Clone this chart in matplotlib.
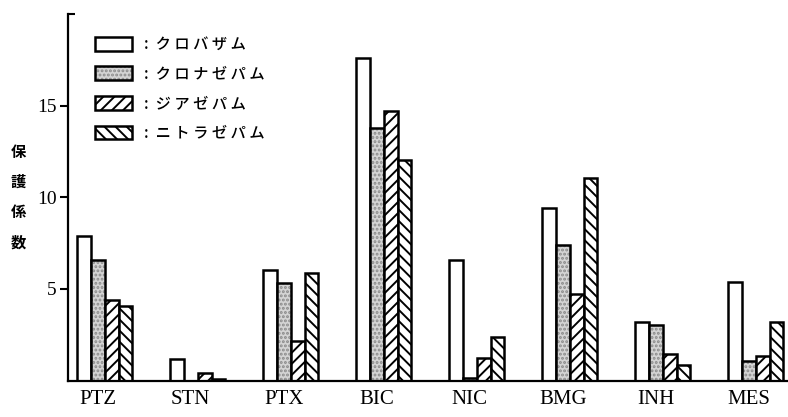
"""
Protective index of four benzodiazepines against eight convulsant models,
drawn as grouped bars with monochrome fill patterns.
"""

import matplotlib

matplotlib.use("Agg")
import matplotlib.pyplot as plt
import numpy as np
from matplotlib.patches import Patch

plt.rcParams["hatch.linewidth"] = 1.4

models = ["PTZ", "STN", "PTX", "BIC", "NIC", "BMG", "INH", "MES"]
drug_names = ["クロバザム", "クロナゼパム", "ジアゼパム", "ニトラゼパム"]

clobazam = [7.9, 1.15, 6.05, 17.6, 6.6, 9.4, 3.2, 5.4]
clonazepam = [6.6, 0.0, 5.3, 13.8, 0.15, 7.4, 3.05, 1.05]
diazepam = [4.4, 0.4, 2.15, 14.7, 1.25, 4.7, 1.45, 1.35]
nitrazepam = [4.05, 0.1, 5.85, 12.05, 2.35, 11.05, 0.85, 3.2]

series = [clobazam, clonazepam, diazepam, nitrazepam]
y_ticks = [5, 10, 15]

SERIF = ["Liberation Serif", "DejaVu Serif"]
CJK = ["Noto Sans CJK JP", "DejaVu Sans"]

# fill style per drug: (facecolor, hatch, hatch colour)
styles = [
    ("white", None, None),
    ("#d4d4d4", "....", "#8a8a8a"),
    ("white", "///", "black"),
    ("white", "\\\\\\", "black"),
]

fig = plt.figure(figsize=(7.88, 4.17), dpi=100)
ax = fig.add_axes([68 / 788, 36.5 / 417, 1 - 68 / 788, (380.5 - 14) / 417])

x = np.arange(len(models))
width = 0.148
shift = 0.075

handles = []
for k, (vals, (fc, hatch, hc)) in enumerate(zip(series, styles)):
    pos = x + shift + (k - 1.5) * width
    if hatch:
        # pattern layer first, black outline drawn on top
        ax.bar(pos, vals, width, color=fc, edgecolor=hc, hatch=hatch, linewidth=0)
        ax.bar(pos, vals, width, fill=False, edgecolor="black", linewidth=1.8)
        handles.append((Patch(facecolor=fc, edgecolor=hc, hatch=hatch, linewidth=0),
                        Patch(fill=False, edgecolor="black", linewidth=1.8)))
    else:
        ax.bar(pos, vals, width, color=fc, edgecolor="black", linewidth=1.8)
        handles.append(Patch(facecolor=fc, edgecolor="black", linewidth=1.8))

ax.set_xlim(-0.32, 7.42)
ax.set_ylim(0, 20)
ax.set_xticks(x)
ax.set_xticklabels(models, fontfamily=SERIF, fontsize=15)
ax.tick_params(axis="x", length=0, pad=7)
ax.set_yticks(y_ticks)
ax.set_yticklabels([str(t) for t in y_ticks], fontfamily=SERIF, fontsize=14)
ax.tick_params(axis="y", direction="out", length=6, width=1.5, pad=2)
# small inward hook at the top of the axis
ax.set_yticks([20], minor=True)
ax.tick_params(axis="y", which="minor", direction="in", length=5, width=1.5)

ax.spines["top"].set_visible(False)
ax.spines["right"].set_visible(False)
ax.spines["left"].set_linewidth(1.6)
ax.spines["bottom"].set_linewidth(1.6)

# spread-out katakana, as in typeset legends
labels = [":  " + " ".join(n) for n in drug_names]
ax.legend(handles, labels, loc="upper left",
          bbox_to_anchor=((95 - 68) / 720, (380.5 - 36) / 366.5), frameon=False,
          prop={"family": CJK, "size": 11, "weight": "medium"},
          handlelength=2.4, handleheight=1.0, labelspacing=0.82,
          handletextpad=0.8, borderaxespad=0, borderpad=0)

fig.text(18 / 788, (417 - 197) / 417, "保\n護\n係\n数", fontfamily=CJK, fontsize=11,
         fontweight="bold", ha="center", va="center", linespacing=2.1)

fig.savefig("out.png", dpi=100)
